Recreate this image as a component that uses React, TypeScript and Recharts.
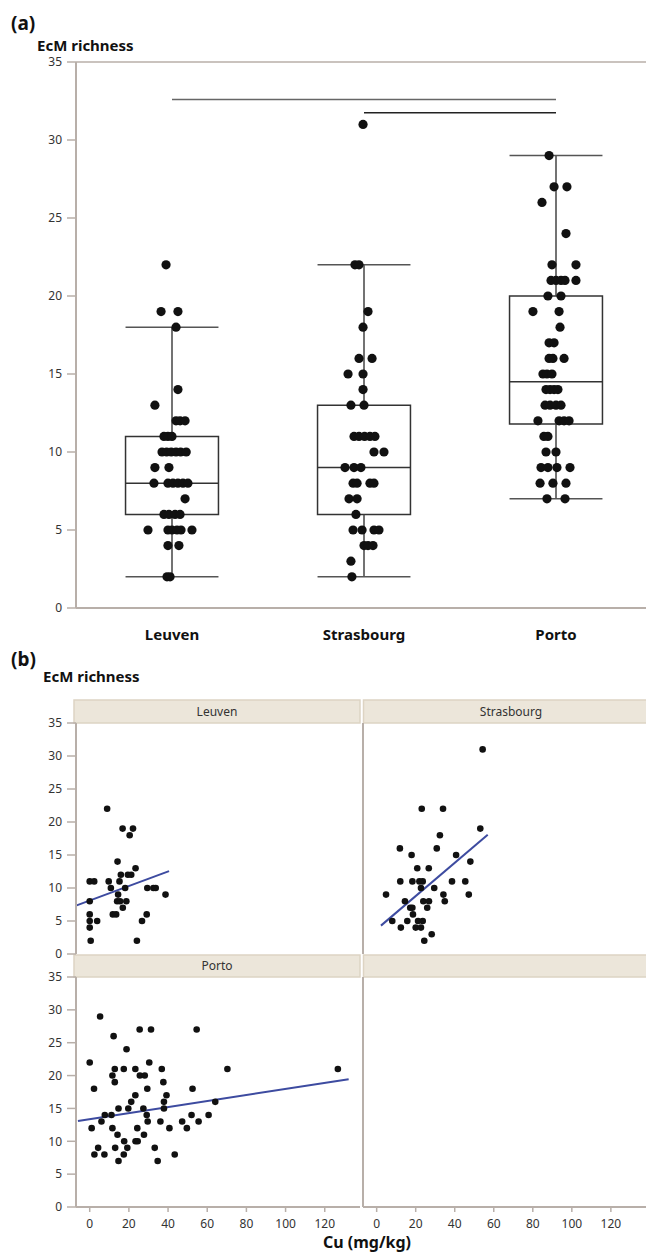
import React from 'react';
import { ScatterChart, Scatter, XAxis, YAxis, ReferenceLine, ReferenceArea } from 'recharts';

const FONT = '"Noto Sans", "Open Sans", sans-serif';
const AXIS = '#b8afa9';
const TXT = '#333333';
const DOT = '#111111';
const FIT = '#3d4ba0';

// ---------- Panel (a) data ----------
const categories = ['Leuven', 'Strasbourg', 'Porto'];
const boxQ1 = [6, 6, 11.8];
const boxMedian = [8, 9, 14.5];
const boxQ3 = [11, 13, 20];
const whiskerLow = [2, 2, 7];
const whiskerHigh = [18, 22, 29];
const richnessTicks = [0, 5, 10, 15, 20, 25, 30, 35];
const sigFrom = [0, 1];
const sigTo = [2, 2];
const sigLevel = [32.6, 31.75];

// [richness, horizontal jitter in category units]
const leuvenDots: [number, number][] = [
  [22, -0.031], [19, -0.057], [19, 0.031], [18, 0.021], [14, 0.031], [13, -0.089],
  [12, 0.021], [12, 0.042], [12, 0.068],
  [11, -0.042], [11, -0.021], [11, 0],
  [10, -0.052], [10, -0.028], [10, -0.004], [10, 0.021], [10, 0.045], [10, 0.074],
  [9, -0.089], [9, -0.016],
  [8, -0.094], [8, -0.021], [8, 0.005], [8, 0.031], [8, 0.057], [8, 0.083],
  [7, 0.068],
  [6, -0.042], [6, -0.016], [6, 0.016], [6, 0.042],
  [5, -0.125], [5, -0.021], [5, 0], [5, 0.026], [5, 0.047], [5, 0.104],
  [4, -0.021], [4, 0.036],
  [2, -0.026], [2, -0.01],
];
const strasbourgDots: [number, number][] = [
  [31, -0.005], [22, -0.047], [22, -0.026], [19, 0.021], [18, -0.005],
  [16, -0.026], [16, 0.042], [15, -0.083], [15, -0.005], [14, -0.005],
  [13, -0.068], [13, 0],
  [11, -0.052], [11, -0.026], [11, 0.003], [11, 0.031], [11, 0.057],
  [10, 0.052], [10, 0.104],
  [9, -0.099], [9, -0.052], [9, -0.016],
  [8, -0.057], [8, -0.036], [8, 0.031], [8, 0.052],
  [7, -0.078], [7, -0.036], [6, -0.042],
  [5, -0.057], [5, -0.01], [5, 0.052], [5, 0.078],
  [4, 0], [4, 0.021], [4, 0.047], [3, -0.068], [2, -0.063],
];
const portoDots: [number, number][] = [
  [29, -0.036], [27, -0.01], [27, 0.057], [26, -0.073], [24, 0.052],
  [22, -0.021], [22, 0.104],
  [21, -0.026], [21, 0], [21, 0.026], [21, 0.047], [21, 0.104],
  [20, -0.042], [20, 0.026], [19, -0.12], [19, 0.016], [18, 0.021],
  [17, -0.036], [17, -0.01], [16, -0.036], [16, -0.016], [16, 0.042],
  [15, -0.068], [15, -0.047], [15, -0.021],
  [14, -0.052], [14, -0.031], [14, -0.01], [14, 0.01],
  [13, -0.057], [13, -0.031], [13, 0], [13, 0.026],
  [12, -0.094], [12, 0.016], [12, 0.042], [12, 0.068],
  [11, -0.063], [11, -0.042], [10, -0.052], [10, 0],
  [9, -0.078], [9, -0.042], [9, 0.005], [9, 0.073],
  [8, -0.083], [8, -0.016], [8, 0.052], [7, -0.047], [7, 0.047],
];

// ---------- Panel (b) data: [Cu (mg/kg), richness] ----------
const cuTicks = [0, 20, 40, 60, 80, 100, 120];
const leuvenCu: [number, number][] = [
  [8.9, 22], [16.8, 19], [22.1, 19], [20.4, 18], [14.2, 14], [23.4, 13],
  [15.9, 12], [19.5, 12], [21.2, 12], [0, 11], [2.3, 11], [9.7, 11], [15.2, 11],
  [10.8, 10], [18.1, 10], [29.4, 10], [32.5, 10], [33.7, 10], [14.5, 9], [38.7, 9],
  [0, 8], [14, 8], [15.5, 8], [18.7, 8], [16.9, 7], [0, 6], [11.8, 6], [13.5, 6],
  [29.1, 6], [0, 5], [3.8, 5], [26.7, 5], [0, 4], [0.5, 2], [24.1, 2],
];
const strasbourgCu: [number, number][] = [
  [54.3, 31], [23.1, 22], [34, 22], [53.1, 19], [32.4, 18], [11.9, 16], [30.8, 16],
  [17.9, 15], [40.7, 15], [48, 14], [20.8, 13], [26.7, 13], [12.1, 11], [18.3, 11],
  [21.9, 11], [23.6, 11], [38.6, 11], [45.4, 11], [22.7, 10], [29.5, 10], [4.8, 9],
  [34.2, 9], [47.2, 9], [14.5, 8], [23.9, 8], [26.8, 8], [34.9, 8], [17.2, 7],
  [18.3, 7], [25.9, 7], [18.6, 6], [8, 5], [15.7, 5], [21.2, 5], [23.6, 5],
  [12.4, 4], [20, 4], [22.7, 4], [28.2, 3], [24.4, 2],
];
const portoCu: [number, number][] = [
  [5.3, 29], [25.5, 27], [31.3, 27], [54.6, 27], [12.2, 26], [18.8, 24], [0, 22],
  [30.4, 22], [12.8, 21], [17.4, 21], [23.3, 21], [36.8, 21], [70.3, 21], [126.7, 21],
  [11.6, 20], [25.6, 20], [28.1, 20], [12.8, 19], [37.6, 19], [2.2, 18], [29.4, 18],
  [52.5, 18], [23.3, 17], [39.2, 17], [21.2, 16], [37.9, 16], [64.1, 16], [14.7, 15],
  [19.7, 15], [27.4, 15], [37.9, 15], [7.7, 14], [11.1, 14], [29.1, 14], [52, 14],
  [60.7, 14], [6, 13], [29.6, 13], [36.1, 13], [47.2, 13], [55.6, 13], [1, 12],
  [11.6, 12], [24.3, 12], [40.7, 12], [49.6, 12], [14.2, 11], [27.7, 11], [17.6, 10],
  [23.4, 10], [24.5, 10], [4.3, 9], [13, 9], [19.2, 9], [33.2, 9], [2.4, 8], [7.5, 8],
  [17.4, 8], [43.4, 8], [14.7, 7], [34.7, 7],
];
// fitted regression lines: [[x0, y0], [x1, y1]]
const leuvenFit: [number, number][] = [[-7, 7.33], [40.5, 12.55]];
const strasbourgFit: [number, number][] = [[2.2, 4.3], [56.9, 18.06]];
const portoFit: [number, number][] = [[-6, 13.08], [132.2, 19.45]];

const CU_DOMAIN: [number, number] = [-7, 138];
const BOX_HALF = 0.242;

const dotsA = [leuvenDots, strasbourgDots, portoDots].flatMap((arr, i) =>
  arr.map(([v, j]) => ({ x: i + j, y: v }))
);

const bigDot = (p: any) => <circle cx={p.cx} cy={p.cy} r={4.6} fill={DOT} />;
const smallDot = (p: any) => <circle cx={p.cx} cy={p.cy} r={3.3} fill={DOT} />;

function PanelA() {
  return (
    <div style={{ position: 'absolute', left: 0, top: 0 }}>
      <ScatterChart width={646} height={660} margin={{ top: 62, right: 0, bottom: 22, left: 0 }}>
        <XAxis
          type="number"
          dataKey="x"
          domain={[-0.5, 2.46875]}
          ticks={[0, 1, 2]}
          allowDataOverflow
          tickFormatter={(v: number) => categories[v] ?? ''}
          height={30}
          tickLine={false}
          tickSize={6}
          tickMargin={15}
          axisLine={{ stroke: AXIS, strokeWidth: 2 }}
          tick={{ fontSize: 15, fontWeight: 700, fill: '#111', fontFamily: FONT }}
        />
        <YAxis
          type="number"
          dataKey="y"
          domain={[0, 35]}
          ticks={richnessTicks}
          width={76}
          tickSize={9}
          tickMargin={5}
          axisLine={{ stroke: AXIS, strokeWidth: 2 }}
          tickLine={{ stroke: AXIS, strokeWidth: 1.5 }}
          tick={{ fontSize: 12, fill: TXT, fontFamily: FONT }}
        />
        <ReferenceLine y={35} stroke={AXIS} strokeWidth={1.5} ifOverflow="visible" />
        {categories.map((c, i) => (
          <ReferenceArea
            key={'box' + c}
            x1={i - BOX_HALF}
            x2={i + BOX_HALF}
            y1={boxQ1[i]}
            y2={boxQ3[i]}
            fill="none"
            fillOpacity={0}
            stroke="#333"
            strokeWidth={1.5}
            ifOverflow="visible"
          />
        ))}
        {categories.map((c, i) => (
          <ReferenceLine key={'med' + c} segment={[{ x: i - BOX_HALF, y: boxMedian[i] }, { x: i + BOX_HALF, y: boxMedian[i] }]} stroke="#333" strokeWidth={1.5} ifOverflow="visible" />
        ))}
        {categories.map((c, i) => (
          <ReferenceLine key={'wu' + c} segment={[{ x: i, y: boxQ3[i] }, { x: i, y: whiskerHigh[i] }]} stroke="#444" strokeWidth={1.5} ifOverflow="visible" />
        ))}
        {categories.map((c, i) => (
          <ReferenceLine key={'wl' + c} segment={[{ x: i, y: whiskerLow[i] }, { x: i, y: boxQ1[i] }]} stroke="#444" strokeWidth={1.5} ifOverflow="visible" />
        ))}
        {categories.map((c, i) => (
          <ReferenceLine key={'cu' + c} segment={[{ x: i - BOX_HALF, y: whiskerHigh[i] }, { x: i + BOX_HALF, y: whiskerHigh[i] }]} stroke="#555" strokeWidth={1.5} ifOverflow="visible" />
        ))}
        {categories.map((c, i) => (
          <ReferenceLine key={'cl' + c} segment={[{ x: i - BOX_HALF, y: whiskerLow[i] }, { x: i + BOX_HALF, y: whiskerLow[i] }]} stroke="#555" strokeWidth={1.5} ifOverflow="visible" />
        ))}
        {sigFrom.map((f, k) => (
          <ReferenceLine key={'sig' + k} segment={[{ x: f, y: sigLevel[k] }, { x: sigTo[k], y: sigLevel[k] }]} stroke={k === 0 ? '#666' : '#222'} strokeWidth={1.5} ifOverflow="visible" />
        ))}
        <Scatter data={dotsA} dataKey="y" shape={bigDot} isAnimationActive={false} />
      </ScatterChart>
    </div>
  );
}

type FacetProps = {
  left: number;
  top: number;
  width: number;
  height: number;
  yAxisWidth: number;
  showYTicks: boolean;
  showXAxis: boolean;
  points: [number, number][];
  fit?: [number, number][];
};

function Facet({ left, top, width, height, yAxisWidth, showYTicks, showXAxis, points, fit }: FacetProps) {
  const data = points.map(([x, y]) => ({ x, y }));
  return (
    <div style={{ position: 'absolute', left, top }}>
      <ScatterChart width={width} height={height} margin={{ top: 10, right: 0, bottom: showXAxis ? 5 : 10, left: 0 }}>
        <XAxis
          type="number"
          dataKey="x"
          domain={CU_DOMAIN}
          ticks={cuTicks}
          allowDataOverflow
          hide={!showXAxis}
          height={30}
          tickSize={5}
          tickMargin={7}
          axisLine={{ stroke: AXIS, strokeWidth: 2 }}
          tickLine={{ stroke: AXIS, strokeWidth: 1.5 }}
          tick={{ fontSize: 12, fill: TXT, fontFamily: FONT }}
        />
        <YAxis
          type="number"
          dataKey="y"
          domain={[0, 35]}
          ticks={richnessTicks}
          width={yAxisWidth}
          tickSize={showYTicks ? 9 : 0}
          tickMargin={5}
          tick={showYTicks ? { fontSize: 12, fill: TXT, fontFamily: FONT } : false}
          tickLine={showYTicks ? { stroke: AXIS, strokeWidth: 1.5 } : false}
          axisLine={{ stroke: AXIS, strokeWidth: 2 }}
        />
        {fit && (
          <ReferenceLine
            segment={[{ x: fit[0][0], y: fit[0][1] }, { x: fit[1][0], y: fit[1][1] }]}
            stroke={FIT}
            strokeWidth={2}
            ifOverflow="visible"
          />
        )}
        <Scatter data={data} dataKey="y" shape={smallDot} isAnimationActive={false} />
      </ScatterChart>
    </div>
  );
}

function Strip({ x, y, w, h, label }: { x: number; y: number; w: number; h: number; label: string }) {
  return (
    <g>
      <rect x={x} y={y} width={w} height={h} fill="#ece6da" stroke="#ddd4c3" strokeWidth={1.5} />
      {label && (
        <text x={x + w / 2} y={y + h / 2 + 4} textAnchor="middle" fontSize={12} fill={TXT} fontFamily={FONT}>
          {label}
        </text>
      )}
    </g>
  );
}

export default function App() {
  return (
    <div style={{ position: 'absolute', left: 0, top: 0, width: 646, height: 1254, overflow: 'hidden', background: '#fff' }}>
      <svg width={646} height={1254} style={{ position: 'absolute', left: 0, top: 0 }}>
        <text x={11} y={30} fontSize={19} fontWeight={700} fill="#111" fontFamily={FONT}>(a)</text>
        <text x={37} y={51} fontSize={15} fontWeight={700} fill="#111" fontFamily={FONT}>EcM richness</text>
        <text x={11} y={666} fontSize={19} fontWeight={700} fill="#111" fontFamily={FONT}>(b)</text>
        <text x={43} y={682} fontSize={15} fontWeight={700} fill="#111" fontFamily={FONT}>EcM richness</text>
        <Strip x={74} y={700} w={286} h={23} label="Leuven" />
        <Strip x={363.5} y={700} w={295} h={23} label="Strasbourg" />
        <Strip x={74} y={955} w={286} h={22} label="Porto" />
        <Strip x={363.5} y={955} w={295} h={22} label="" />
        <text x={367} y={1248} textAnchor="middle" fontSize={16} fontWeight={700} fill="#111" fontFamily={FONT}>Cu (mg/kg)</text>
      </svg>
      <PanelA />
      <Facet left={0} top={713} width={360} height={251} yAxisWidth={76} showYTicks showXAxis={false} points={leuvenCu} fit={leuvenFit} />
      <Facet left={353} top={713} width={293} height={251} yAxisWidth={10} showYTicks={false} showXAxis={false} points={strasbourgCu} fit={strasbourgFit} />
      <Facet left={0} top={967} width={360} height={275} yAxisWidth={76} showYTicks showXAxis points={portoCu} fit={portoFit} />
      <Facet left={353} top={967} width={293} height={275} yAxisWidth={10} showYTicks={false} showXAxis points={[]} />
    </div>
  );
}
